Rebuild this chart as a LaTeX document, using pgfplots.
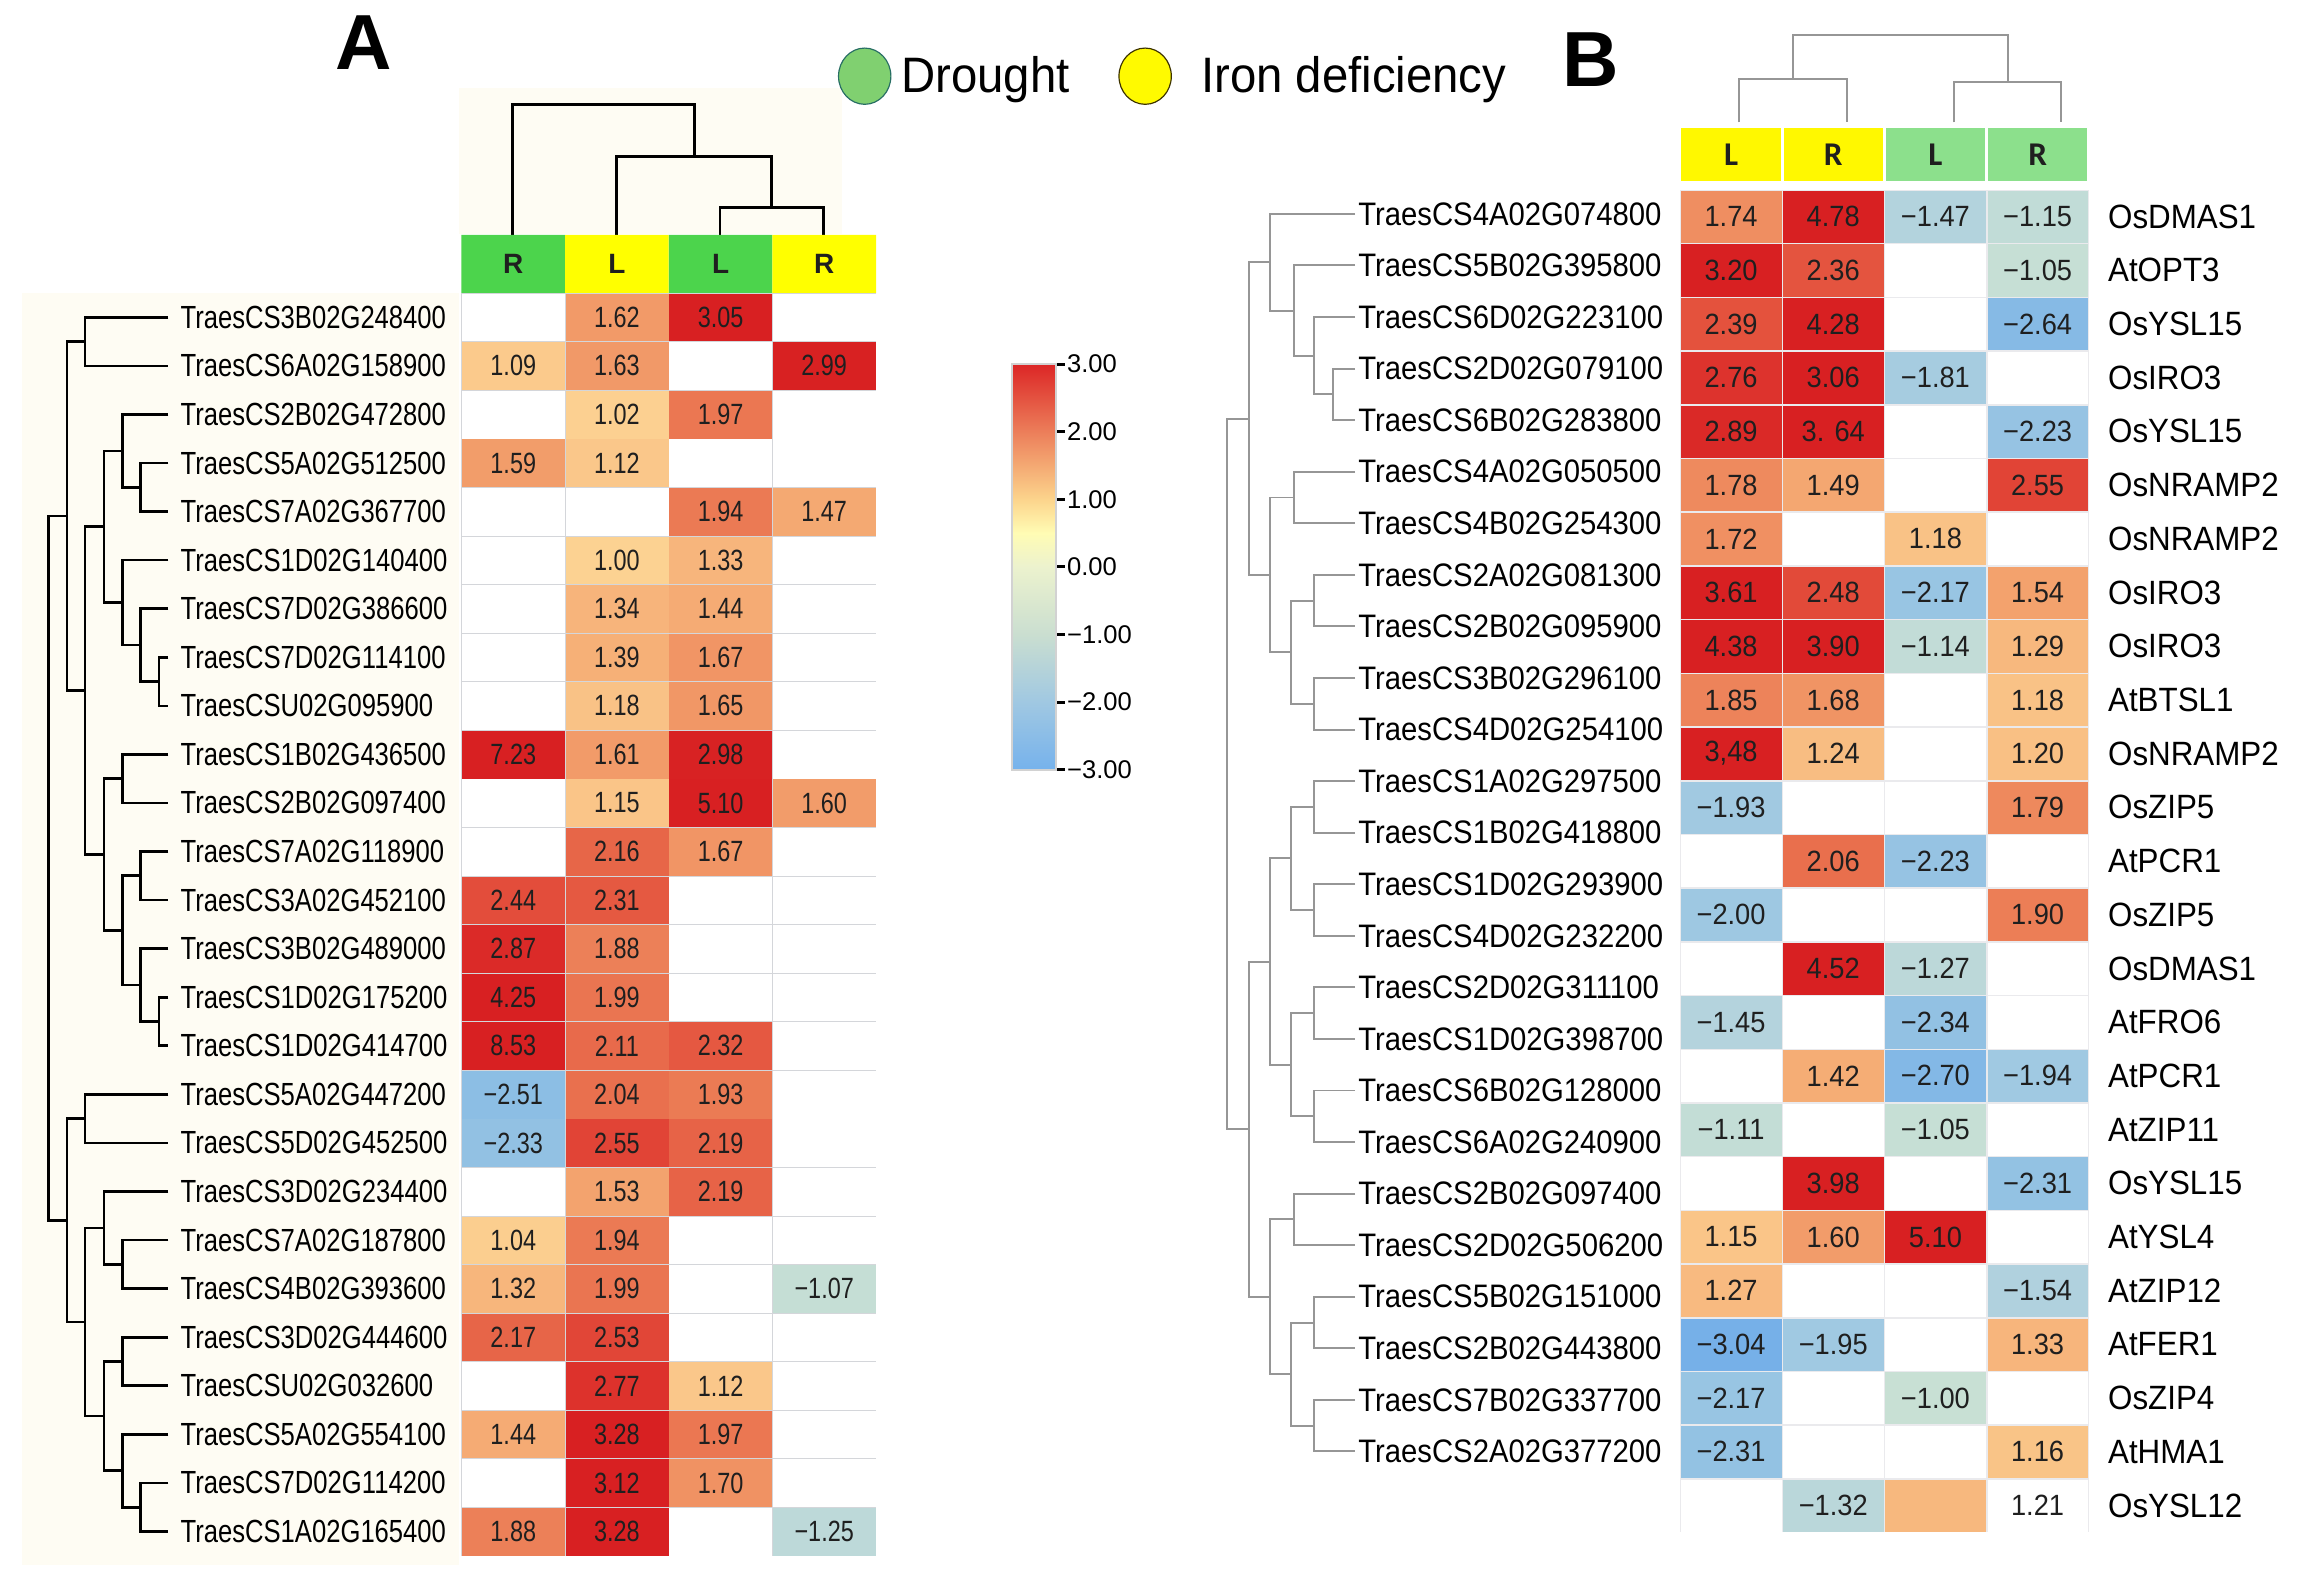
\documentclass[border=0pt]{standalone}
\usepackage{fontspec}
\setmainfont{Liberation Sans}
\newfontfamily\fA[FakeStretch=0.80]{Liberation Sans}
\newfontfamily\fB[FakeStretch=0.90]{Liberation Sans}
\newfontfamily\fR[FakeStretch=0.93]{Liberation Sans}
\newfontfamily\fL[FakeStretch=0.95]{Liberation Sans}
\newfontfamily\fH{Carlito}
\usepackage{pgfplots}
\usepackage{pgfplotstable}
\pgfplotsset{compat=1.18}

\definecolor{cream}{RGB}{254,252,243}
\definecolor{gridA}{RGB}{212,214,218}
\definecolor{gridB}{RGB}{234,234,237}
\definecolor{greenA}{RGB}{76,212,76}
\definecolor{yellowA}{RGB}{255,255,0}
\definecolor{greenB}{RGB}{140,224,140}
\definecolor{yellowB}{RGB}{255,248,0}
\definecolor{legG}{RGB}{128,208,112}
\definecolor{legGe}{RGB}{40,110,100}
\definecolor{legY}{RGB}{255,250,0}
\definecolor{legYe}{RGB}{60,50,0}
\definecolor{dendB}{RGB}{150,150,150}

\pgfplotsset{
  colormap={cellmap}{rgb255(0cm)=(118,176,232) rgb255(0.5cm)=(140,190,228)
    rgb255(1cm)=(158,200,226) rgb255(1.5cm)=(178,210,222) rgb255(2cm)=(200,224,212)
    rgb255(2.1cm)=(255,255,255) rgb255(3.9cm)=(255,255,255) rgb255(4cm)=(252,210,146)
    rgb255(4.5cm)=(244,166,112) rgb255(5cm)=(234,116,80) rgb255(5.5cm)=(226,72,56)
    rgb255(6cm)=(216,32,34)},
  colormap={cbar}{rgb255(0cm)=(118,178,236) rgb255(1cm)=(160,200,226)
    rgb255(2cm)=(202,222,208) rgb255(3cm)=(236,242,206) rgb255(3.5cm)=(255,252,180)
    rgb255(4cm)=(252,212,140) rgb255(5cm)=(236,126,90) rgb255(6cm)=(220,38,38)},
}

% panel A: columns R(drought) L(iron) L(drought) R(iron)
\pgfplotstableread{
gene c0 c1 c2 c3 l0 l1 l2 l3
TraesCS3B02G248400 0 1.62 3.05 0 {} 1.62 3.05 {}
TraesCS6A02G158900 1.09 1.63 0 2.99 1.09 1.63 {} 2.99
TraesCS2B02G472800 0 1.02 1.97 0 {} 1.02 1.97 {}
TraesCS5A02G512500 1.59 1.12 0 0 1.59 1.12 {} {}
TraesCS7A02G367700 0 0 1.94 1.47 {} {} 1.94 1.47
TraesCS1D02G140400 0 1.00 1.33 0 {} 1.00 1.33 {}
TraesCS7D02G386600 0 1.34 1.44 0 {} 1.34 1.44 {}
TraesCS7D02G114100 0 1.39 1.67 0 {} 1.39 1.67 {}
TraesCSU02G095900 0 1.18 1.65 0 {} 1.18 1.65 {}
TraesCS1B02G436500 7.23 1.61 2.98 0 7.23 1.61 2.98 {}
TraesCS2B02G097400 0 1.15 5.10 1.60 {} 1.15 5.10 1.60
TraesCS7A02G118900 0 2.16 1.67 0 {} 2.16 1.67 {}
TraesCS3A02G452100 2.44 2.31 0 0 2.44 2.31 {} {}
TraesCS3B02G489000 2.87 1.88 0 0 2.87 1.88 {} {}
TraesCS1D02G175200 4.25 1.99 0 0 4.25 1.99 {} {}
TraesCS1D02G414700 8.53 2.11 2.32 0 8.53 2.11 2.32 {}
TraesCS5A02G447200 -2.51 2.04 1.93 0 −2.51 2.04 1.93 {}
TraesCS5D02G452500 -2.33 2.55 2.19 0 −2.33 2.55 2.19 {}
TraesCS3D02G234400 0 1.53 2.19 0 {} 1.53 2.19 {}
TraesCS7A02G187800 1.04 1.94 0 0 1.04 1.94 {} {}
TraesCS4B02G393600 1.32 1.99 0 -1.07 1.32 1.99 {} −1.07
TraesCS3D02G444600 2.17 2.53 0 0 2.17 2.53 {} {}
TraesCSU02G032600 0 2.77 1.12 0 {} 2.77 1.12 {}
TraesCS5A02G554100 1.44 3.28 1.97 0 1.44 3.28 1.97 {}
TraesCS7D02G114200 0 3.12 1.70 0 {} 3.12 1.70 {}
TraesCS1A02G165400 1.88 3.28 0 -1.25 1.88 3.28 {} −1.25
}\tabA

% panel B: columns L(iron) R(iron) L(drought) R(drought)
\pgfplotstableread{
gene sym c0 c1 c2 c3 l0 l1 l2 l3
TraesCS4A02G074800 OsDMAS1 1.74 4.78 -1.47 -1.15 1.74 4.78 −1.47 −1.15
TraesCS5B02G395800 AtOPT3 3.20 2.36 0 -1.05 3.20 2.36 {} −1.05
TraesCS6D02G223100 OsYSL15 2.39 4.28 0 -2.64 2.39 4.28 {} −2.64
TraesCS2D02G079100 OsIRO3 2.76 3.06 -1.81 0 2.76 3.06 −1.81 {}
TraesCS6B02G283800 OsYSL15 2.89 3.64 0 -2.23 2.89 {3. 64} {} −2.23
TraesCS4A02G050500 OsNRAMP2 1.78 1.49 0 2.55 1.78 1.49 {} 2.55
TraesCS4B02G254300 OsNRAMP2 1.72 0 1.18 0 1.72 {} 1.18 {}
TraesCS2A02G081300 OsIRO3 3.61 2.48 -2.17 1.54 3.61 2.48 −2.17 1.54
TraesCS2B02G095900 OsIRO3 4.38 3.90 -1.14 1.29 4.38 3.90 −1.14 1.29
TraesCS3B02G296100 AtBTSL1 1.85 1.68 0 1.18 1.85 1.68 {} 1.18
TraesCS4D02G254100 OsNRAMP2 3.48 1.24 0 1.20 {3,48} 1.24 {} 1.20
TraesCS1A02G297500 OsZIP5 -1.93 0 0 1.79 −1.93 {} {} 1.79
TraesCS1B02G418800 AtPCR1 0 2.06 -2.23 0 {} 2.06 −2.23 {}
TraesCS1D02G293900 OsZIP5 -2.00 0 0 1.90 −2.00 {} {} 1.90
TraesCS4D02G232200 OsDMAS1 0 4.52 -1.27 0 {} 4.52 −1.27 {}
TraesCS2D02G311100 AtFRO6 -1.45 0 -2.34 0 −1.45 {} −2.34 {}
TraesCS1D02G398700 AtPCR1 0 1.42 -2.70 -1.94 {} 1.42 −2.70 −1.94
TraesCS6B02G128000 AtZIP11 -1.11 0 -1.05 0 −1.11 {} −1.05 {}
TraesCS6A02G240900 OsYSL15 0 3.98 0 -2.31 {} 3.98 {} −2.31
TraesCS2B02G097400 AtYSL4 1.15 1.60 5.10 0 1.15 1.60 5.10 {}
TraesCS2D02G506200 AtZIP12 1.27 0 0 -1.54 1.27 {} {} −1.54
TraesCS5B02G151000 AtFER1 -3.04 -1.95 0 1.33 −3.04 −1.95 {} 1.33
TraesCS2B02G443800 OsZIP4 -2.17 0 -1.00 0 −2.17 {} −1.00 {}
TraesCS7B02G337700 AtHMA1 -2.31 0 0 1.16 −2.31 {} {} 1.16
TraesCS2A02G377200 OsYSL12 0 -1.32 1.30 0 {} −1.32 {} 1.21
}\tabB

\pgfplotsset{
  cellsA/.style={scatter, only marks, mark=square*, mark size=11.95pt,
    mark options={xscale=2.18, line width=0.2pt},
    scatter/use mapped color={draw=mapped color, fill=mapped color},
    point meta=explicit},
  cellsB/.style={scatter, only marks, mark=square*, mark size=13.1pt,
    mark options={xscale=1.947, line width=0.2pt},
    scatter/use mapped color={draw=mapped color, fill=mapped color},
    point meta=explicit},
  txt/.style={only marks, mark=none, nodes near coords, point meta=explicit symbolic,
    every node near coord/.append style={anchor=center, inner sep=0pt, text=black!88, font=#1}},
}

\begin{document}
\begin{tikzpicture}[x=0.75pt,y=0.75pt]
\path[use as bounding box] (0,0) rectangle (1568,-1074);

% overlay axis in picture pixels: backgrounds, column dendrograms, legend
\begin{axis}[at={(0pt,0pt)}, anchor=north west, scale only axis,
  width=1176pt, height=805.5pt, xmin=0, xmax=1568, ymin=0, ymax=1074,
  y dir=reverse, hide axis, clip=false,
  legend columns=2, legend cell align=left,
  legend style={at={(axis cs:572,52)}, anchor=west, draw=none, fill=none,
    inner sep=0pt, outer sep=0pt, nodes={inner sep=0pt, anchor=west},
    font=\fL\fontsize{25.5}{30}\selectfont,
    /tikz/every even column/.append style={column sep=25pt}}]
\addplot[fill=cream, draw=none, forget plot] coordinates {(313,60) (575,60) (575,160) (313,160)};
\addplot[fill=cream, draw=none, forget plot] coordinates {(15,200) (313,200) (313,1068) (15,1068)};
\addplot[black, line width=1.5pt, unbounded coords=jump, forget plot] table {
x y
350 160.4
350 71.2
473.9 71.2
473.9 107
nan nan
421 160.4
421 107
526.75 107
526.75 141.4
nan nan
491.5 160.4
491.5 141.4
562 141.4
562 160.4
};
\addplot[dendB, line width=1pt, unbounded coords=jump, forget plot] table {
x y
1187 83.6
1187 54
1261 54
1261 83.6
nan nan
1334 83.6
1334 55.7
1407 55.7
1407 83.6
nan nan
1224 54
1224 23.7
1370.5 23.7
1370.5 55.7
};
\addlegendimage{legend image code/.code={\draw[fill=legG, draw=legGe, line width=0.6pt] (13.4pt,0pt) ellipse [x radius=13.4pt, y radius=14.4pt];}}
\addlegendentry{\hspace{5pt}Drought}
\addlegendimage{legend image code/.code={\draw[fill=legY, draw=legYe, line width=0.6pt] (13.4pt,0pt) ellipse [x radius=13.4pt, y radius=14.4pt];}}
\addlegendentry{\hspace{15pt}Iron deficiency}
\end{axis}

\node[font=\bfseries\fontsize{40}{40}\selectfont] at (248,-29) {A};
\node[font=\bfseries\fontsize{40}{40}\selectfont] at (1086,-41) {B};

% ---------- panel A ----------
\begin{axis}[at={(0pt,-150pt)}, anchor=north west, scale only axis,
  width=86.25pt, height=646.5pt, xmin=0, xmax=115, ymin=0.5, ymax=26.5,
  y dir=reverse, clip=false, axis line style={draw=none}, xtick=\empty,
  ytick={1,...,26}, yticklabels from table={\tabA}{gene}, yticklabel pos=right,
  major tick length=0pt,
  yticklabel style={anchor=west, inner sep=0pt, xshift=6pt, font=\fA\fontsize{16.4}{18}\selectfont}]
\addplot[black, line width=1.35pt, unbounded coords=jump] table {
x y
115 1
58 1
58 2
115 2
nan nan
115 4
96 4
96 5
115 5
nan nan
115 3
83.5 3
83.5 4.5
96 4.5
nan nan
115 8
108.5 8
108.5 9
115 9
nan nan
115 7
96 7
96 8.5
108.5 8.5
nan nan
115 6
83.5 6
83.5 7.75
96 7.75
nan nan
83.5 3.75
71 3.75
71 6.875
83.5 6.875
nan nan
115 10
83.5 10
83.5 11
115 11
nan nan
115 12
96 12
96 13
115 13
nan nan
115 15
108.5 15
108.5 16
115 16
nan nan
115 14
96 14
96 15.5
108.5 15.5
nan nan
96 12.5
83.5 12.5
83.5 14.75
96 14.75
nan nan
83.5 10.5
71 10.5
71 13.625
83.5 13.625
nan nan
71 5.3125
58 5.3125
58 12.0625
71 12.0625
nan nan
58 1.5
45.8 1.5
45.8 8.6875
58 8.6875
nan nan
115 17
58 17
58 18
115 18
nan nan
115 20
83.5 20
83.5 21
115 21
nan nan
115 19
71 19
71 20.5
83.5 20.5
nan nan
115 22
83.5 22
83.5 23
115 23
nan nan
115 25
96 25
96 26
115 26
nan nan
115 24
83.5 24
83.5 25.5
96 25.5
nan nan
83.5 22.5
71 22.5
71 24.75
83.5 24.75
nan nan
71 19.75
58 19.75
58 23.625
71 23.625
nan nan
58 17.5
45.8 17.5
45.8 21.6875
58 21.6875
nan nan
45.8 5.09375
33.3 5.09375
33.3 19.59375
45.8 19.59375
};
\end{axis}

\begin{axis}[at={(236.25pt,-120.3pt)}, anchor=north west, scale only axis,
  width=212.25pt, height=29.7pt, xmin=-0.5, xmax=3.5, ymin=0, ymax=1,
  hide axis, clip=false]
\addplot[ybar, bar width=1, bar shift=0, fill=greenA, draw=none] coordinates {(0,1) (2,1)};
\addplot[ybar, bar width=1, bar shift=0, fill=yellowA, draw=none] coordinates {(1,1) (3,1)};
\addplot[txt={\bfseries\fontsize{14.3}{15}\selectfont}] table[x=x, y=y, meta=lab] {
x y lab
0 0.5 R
1 0.5 L
2 0.5 L
3 0.5 R
};
\end{axis}

\begin{axis}[at={(236.25pt,-150pt)}, anchor=north west, scale only axis,
  width=212.25pt, height=646.5pt, xmin=-0.5, xmax=3.5, ymin=0.5, ymax=26.5,
  y dir=reverse, xtick=\empty, ytick=\empty, axis line style={draw=none},
  axis background/.style={fill=gridA},
  colormap name=cellmap, point meta min=-3, point meta max=3]
\addplot[cellsA] table[x expr=0, y expr=\coordindex+1, meta=c0] \tabA;
\addplot[cellsA] table[x expr=1, y expr=\coordindex+1, meta=c1] \tabA;
\addplot[cellsA] table[x expr=2, y expr=\coordindex+1, meta=c2] \tabA;
\addplot[cellsA] table[x expr=3, y expr=\coordindex+1, meta=c3] \tabA;
\addplot[txt={\fA\fontsize{15}{15}\selectfont}] table[x expr=0, y expr=\coordindex+1, meta=l0] \tabA;
\addplot[txt={\fA\fontsize{15}{15}\selectfont}] table[x expr=1, y expr=\coordindex+1, meta=l1] \tabA;
\addplot[txt={\fA\fontsize{15}{15}\selectfont}] table[x expr=2, y expr=\coordindex+1, meta=l2] \tabA;
\addplot[txt={\fA\fontsize{15}{15}\selectfont}] table[x expr=3, y expr=\coordindex+1, meta=l3] \tabA;
\end{axis}

% colour scale
\begin{axis}[at={(509.6pt,-186.375pt)}, anchor=north west, scale only axis,
  width=1pt, height=207.75pt, xmin=0, xmax=1, ymin=-3, ymax=3, hide axis,
  colormap name=cbar, point meta min=-3, point meta max=3,
  colorbar, colorbar/width=22.5pt,
  colorbar style={at={(parent axis.north west)}, anchor=north west, height=207.75pt,
    ytick={-3,...,3}, yticklabels={−3.00,−2.00,−1.00,0.00,1.00,2.00,3.00},
    ytick pos=right, yticklabel pos=right, tick align=outside,
    major tick length=4.5pt, tick style={black, line width=1.5pt},
    axis line style={draw=gray!35, line width=0.8pt},
    yticklabel style={anchor=west, inner sep=0pt, xshift=1pt, font=\fontsize{13.1}{14}\selectfont}}]
\end{axis}

% ---------- panel B ----------
\begin{axis}[at={(622.5pt,-96.3pt)}, anchor=north west, scale only axis,
  width=71.25pt, height=660pt, xmin=830, xmax=925, ymin=0.5, ymax=25.5,
  y dir=reverse, clip=false, axis line style={draw=none}, xtick=\empty,
  ytick={1,...,25}, yticklabels from table={\tabB}{gene}, yticklabel pos=right,
  major tick length=0pt,
  yticklabel style={anchor=west, inner sep=0pt, xshift=1.5pt, font=\fB\fontsize{16.65}{18}\selectfont}]
\addplot[dendB, line width=1pt, unbounded coords=jump] table {
x y
925 4
910 4
910 5
925 5
nan nan
925 3
897 3
897 4.5
910 4.5
nan nan
925 2
883 2
883 3.75
897 3.75
nan nan
925 1
867 1
867 2.875
883 2.875
nan nan
925 6
883 6
883 7
925 7
nan nan
925 8
897 8
897 9
925 9
nan nan
925 10
897 10
897 11
925 11
nan nan
897 8.5
881 8.5
881 10.5
897 10.5
nan nan
883 6.5
867 6.5
867 9.5
881 9.5
nan nan
867 1.9375
852.6 1.9375
852.6 8
867 8
nan nan
925 12
897 12
897 13
925 13
nan nan
925 14
897 14
897 15
925 15
nan nan
897 12.5
881 12.5
881 14.5
897 14.5
nan nan
925 16
897 16
897 17
925 17
nan nan
925 18
897 18
897 19
925 19
nan nan
897 16.5
881 16.5
881 18.5
897 18.5
nan nan
881 13.5
867 13.5
867 17.5
881 17.5
nan nan
925 20
883 20
883 21
925 21
nan nan
925 22
897 22
897 23
925 23
nan nan
925 24
897 24
897 25
925 25
nan nan
897 22.5
881 22.5
881 24.5
897 24.5
nan nan
883 20.5
867 20.5
867 23.5
881 23.5
nan nan
867 15.5
852.6 15.5
852.6 22
867 22
nan nan
852.6 4.96875
837.3 4.96875
837.3 18.75
852.6 18.75
};
\end{axis}

\begin{axis}[at={(860.1pt,-64.8pt)}, anchor=north west, scale only axis,
  width=209.25pt, height=28.5pt, xmin=-0.5, xmax=3.5, ymin=0, ymax=1,
  hide axis, clip=false]
\addplot[ybar, bar width=1, bar shift=0, fill=yellowB, draw=white, line width=1.5pt] coordinates {(0,1) (1,1)};
\addplot[ybar, bar width=1, bar shift=0, fill=greenB, draw=white, line width=1.5pt] coordinates {(2,1) (3,1)};
\addplot[txt={\fH\bfseries\fontsize{17}{18}\selectfont}] table[x=x, y=y, meta=lab] {
x y lab
0 0.5 L
1 0.5 R
2 0.5 L
3 0.5 R
};
\end{axis}

\begin{axis}[at={(860.1pt,-97.125pt)}, anchor=north west, scale only axis,
  width=209.25pt, height=687.375pt, xmin=-0.5, xmax=3.5, ymin=0.5, ymax=25.5,
  y dir=reverse, xtick=\empty,
  ytick={1,...,25}, yticklabels from table={\tabB}{sym}, yticklabel pos=right,
  major tick length=0pt,
  yticklabel style={anchor=west, inner sep=0pt, xshift=9.75pt, font=\fR\fontsize{17.25}{18}\selectfont},
  axis line style={draw=none}, axis background/.style={fill=gridB},
  colormap name=cellmap, point meta min=-3, point meta max=3]
\addplot[cellsB] table[x expr=0, y expr=\coordindex+1, meta=c0] \tabB;
\addplot[cellsB] table[x expr=1, y expr=\coordindex+1, meta=c1] \tabB;
\addplot[cellsB] table[x expr=2, y expr=\coordindex+1, meta=c2] \tabB;
\addplot[cellsB] table[x expr=3, y expr=\coordindex+1, meta=c3] \tabB;
\addplot[txt={\fR\fontsize{15}{15}\selectfont}] table[x expr=0, y expr=\coordindex+1, meta=l0] \tabB;
\addplot[txt={\fR\fontsize{15}{15}\selectfont}] table[x expr=1, y expr=\coordindex+1, meta=l1] \tabB;
\addplot[txt={\fR\fontsize{15}{15}\selectfont}] table[x expr=2, y expr=\coordindex+1, meta=l2] \tabB;
\addplot[txt={\fR\fontsize{15}{15}\selectfont}] table[x expr=3, y expr=\coordindex+1, meta=l3] \tabB;
\end{axis}
\end{tikzpicture}
\end{document}
